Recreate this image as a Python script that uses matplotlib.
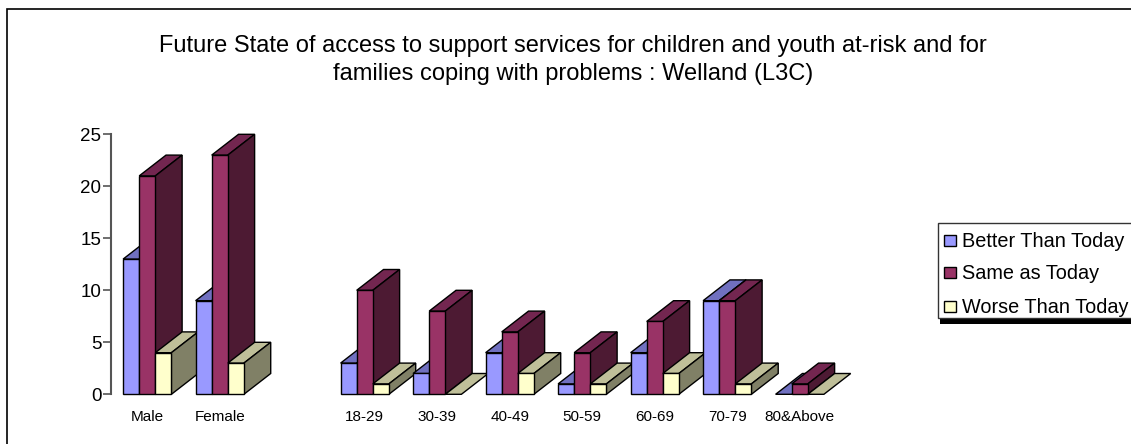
import matplotlib
matplotlib.use('Agg')
import matplotlib.pyplot as plt
from matplotlib.patches import Polygon, Rectangle
from matplotlib.lines import Line2D

plt.rcParams['font.family'] = ['Liberation Sans', 'DejaVu Sans']

#values, blank slot between the sex and age groups
categories = ['Male', 'Female', '', '18-29', '30-39', '40-49', '50-59', '60-69', '70-79', '80&Above']
better = [13, 9, None, 3, 2, 4, 1, 4, 9, 0]
same = [21, 23, None, 10, 8, 6, 4, 7, 9, 1]
worse = [4, 3, None, 1, 0, 2, 1, 2, 1, 0]
series_names = ['Better Than Today', 'Same as Today', 'Worse Than Today']
yticks = [0, 5, 10, 15, 20, 25]
title = ('Future State of access to support services for children and youth at-risk and for\n'
         'families coping with problems : Welland (L3C)')

W, H = 1131, 444
fig = plt.figure(figsize=(W / 100, H / 100), dpi=100)
ax = fig.add_axes([111 / W, 1 - 394.3 / H, 725 / W, 260 / H])
ax.set_xlim(-0.5, 9.5)
ax.set_ylim(0, 25)

# front, top, side colours
faces = [('#9999FF', '#7070C0', '#4D4D80'),
         ('#993366', '#732650', '#4D1A33'),
         ('#FFFFCC', '#BFBF99', '#808066')]
bar_w = 0.222
dx = 0.37  # depth in slots
dy = 2.0   # depth in value units


def bar3d(ax, x, v, cols):
    kw = dict(edgecolor='black', linewidth=1.0, joinstyle='miter', clip_on=False)
    ax.add_patch(Polygon([(x, v), (x + dx, v + dy), (x + bar_w + dx, v + dy), (x + bar_w, v)],
                         facecolor=cols[1], **kw))
    if v > 0:
        ax.add_patch(Polygon([(x + bar_w, 0), (x + bar_w + dx, dy), (x + bar_w + dx, v + dy), (x + bar_w, v)],
                             facecolor=cols[2], **kw))
        ax.add_patch(Rectangle((x, 0), bar_w, v, facecolor=cols[0], **kw))


for i in range(len(categories)):
    if better[i] is None:
        continue
    for j, vals in enumerate([better, same, worse]):
        bar3d(ax, i + (j - 1.5) * bar_w, vals[i], faces[j])

for s in ['top', 'right', 'bottom']:
    ax.spines[s].set_visible(False)
ax.spines['left'].set_color('#555555')
ax.spines['left'].set_linewidth(1.5)
ax.set_yticks(yticks)
ax.tick_params(axis='y', length=6, width=1.2, color='#555555', labelsize=13.5, pad=1)
ax.set_xticks([i for i in range(len(categories)) if categories[i]])
ax.set_xticklabels([c for c in categories if c], fontsize=11)
ax.tick_params(axis='x', length=0, pad=11)

fig.text(573 / W, 1 - 60 / H, title, ha='center', va='center', fontsize=17, linespacing=1.32)

# outer chart frame, runs off the right and bottom of the picture
fig.add_artist(Line2D([7 / W, 7 / W, 1], [0, 1 - 9 / H, 1 - 9 / H], transform=fig.transFigure,
                      color='black', linewidth=1.2, solid_joinstyle='miter'))

# legend box with its shadow
fig.add_artist(Rectangle((940 / W, 1 - 324 / H), 200 / W, 6 / H, transform=fig.transFigure,
                         facecolor='black', edgecolor='none'))
fig.add_artist(Rectangle((938 / W, 1 - 318 / H), 200 / W, 95 / H, transform=fig.transFigure,
                         facecolor='white', edgecolor='#333333', linewidth=1))
for name, cols, y in zip(series_names, faces, [241, 273, 307]):
    fig.add_artist(Rectangle((944 / W, 1 - (y + 5) / H), 12 / W, 11 / H, transform=fig.transFigure,
                             facecolor=cols[0], edgecolor='black', linewidth=1))
    fig.text(962 / W, 1 - y / H, name, ha='left', va='center', fontsize=14.3)

fig.savefig('out.png', dpi=100)
